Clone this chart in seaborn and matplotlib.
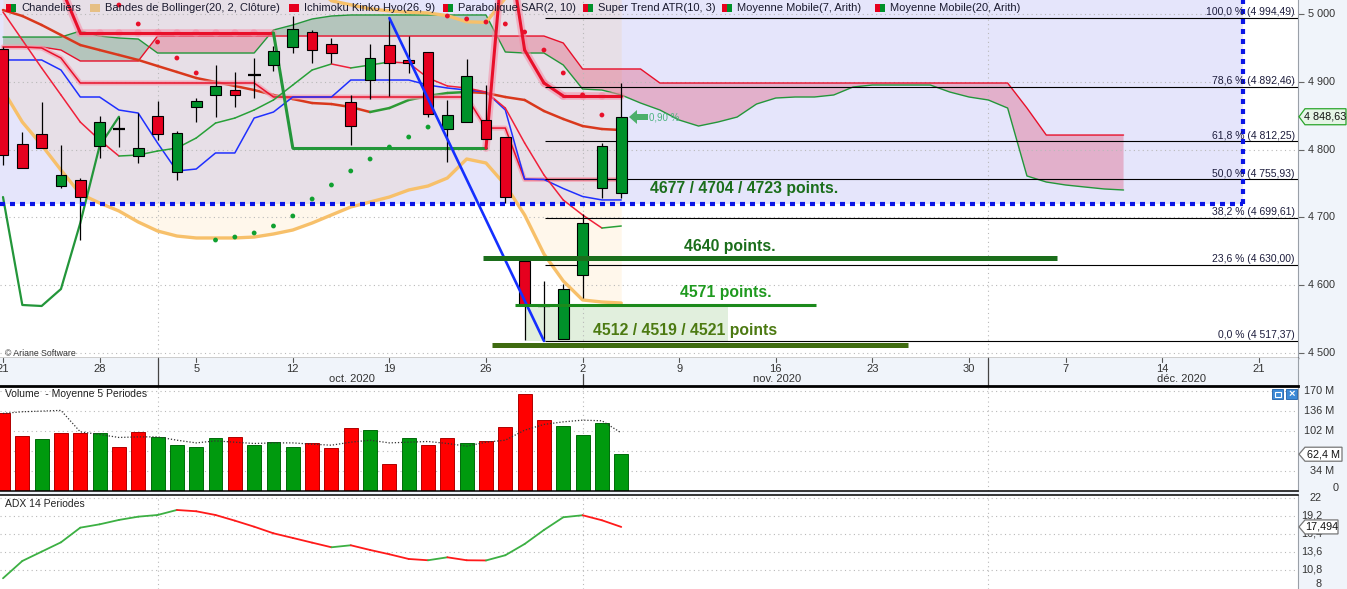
import numpy as np
import matplotlib
matplotlib.use("Agg")
import matplotlib.pyplot as plt
import matplotlib.transforms as mtransforms
from matplotlib.collections import LineCollection
from matplotlib.patches import Rectangle, Polygon
import seaborn as sns

# ---------------------------------------------------------------- data
# one index per trading session, starting Monday 21 Sept 2020
day_labels = ["21", "28", "5", "12", "19", "26", "2", "9", "16", "23", "30", "7", "14", "21"]
day_label_pos = [0, 5, 10, 15, 20, 25, 30, 35, 40, 45, 50, 55, 60, 65]
month_labels = ["oct. 2020", "nov. 2020", "déc. 2020"]
month_label_pos = [18.06, 40.06, 61.02]
month_start_pos = [8, 30, 51]

open_ = [4948.7, 4808.4, 4823.1, 4746.3, 4755.2, 4805.4, 4830.5, 4790.6, 4849.7, 4767.0,
         4863.0, 4880.8, 4888.1, 4910.3, 4925.1, 4951.7, 4973.8, 4956.1, 4870.4, 4902.9,
         4954.6, 4932.5, 4944.3, 4830.5, 4840.8, 4843.8, 4818.7, 4635.5, 4569.0, 4520.2,
         4614.8, 4743.3, 4735.9]
high = [4951.7, 4826.1, 4870.4, 4806.9, 4758.1, 4849.7, 4848.2, 4854.1, 4871.9, 4827.5,
        4876.3, 4925.1, 4914.8, 4935.4, 4953.2, 4997.5, 4976.8, 4965.0, 4880.8, 4956.1,
        4994.49, 4967.9, 4944.3, 4873.4, 4934.0, 4895.5, 4818.7, 4635.5, 4605.9, 4601.5,
        4704.9, 4809.8, 4898.5]
low = [4777.3, 4772.9, 4802.4, 4743.3, 4666.5, 4787.7, 4803.9, 4780.3, 4814.3, 4755.2,
       4840.8, 4848.2, 4863.0, 4876.3, 4916.2, 4942.8, 4928.0, 4928.0, 4806.9, 4874.8,
       4879.3, 4913.3, 4848.2, 4781.8, 4840.8, 4815.7, 4721.2, 4518.8, 4517.37, 4520.2,
       4580.8, 4728.6, 4728.6]
close = [4792.1, 4772.9, 4802.4, 4762.6, 4730.0, 4840.8, 4830.5, 4802.4, 4823.1, 4824.6,
         4871.9, 4894.1, 4880.8, 4910.3, 4945.8, 4978.3, 4947.2, 4942.8, 4834.9, 4935.4,
         4928.0, 4928.0, 4852.7, 4851.2, 4908.8, 4815.7, 4730.0, 4570.5, 4569.0, 4594.1,
         4691.6, 4805.4, 4848.63]

volume = [131.6, 93.0, 88.0, 98.6, 98.6, 98.6, 74.3, 99.8, 91.3, 77.7,
          74.3, 89.6, 91.3, 77.7, 82.8, 74.3, 81.1, 72.6, 106.6, 103.2,
          45.4, 89.6, 77.7, 89.6, 81.1, 84.5, 108.3, 164.4, 120.3, 110.0,
          94.8, 115.1, 62.4]
volume_ma5 = [131.6, 134.4, 135.5, 136.7, 100.3, 95.9, 90.8, 91.8, 91.8, 86.2,
              81.6, 85.0, 82.8, 80.6, 81.6, 81.6, 79.4, 77.7, 82.8, 86.2,
              81.6, 82.8, 84.0, 80.6, 76.0, 82.8, 86.2, 103.2, 112.9, 117.3,
              120.2, 119.1, 98.6]
adx = [9.51, 12.2, 13.65, 15.1, 17.38, 17.9, 18.58, 19.09, 19.35, 20.13,
       19.93, 19.35, 18.47, 17.53, 16.5, 15.78, 15.05, 14.33, 14.64, 13.91,
       13.24, 12.51, 12.31, 12.77, 12.31, 12.28, 13.09, 14.84, 17.02, 19.0,
       19.31, 18.53, 17.494]

bb_lower = [4888.1, 4840.8, 4806.9, 4769.9, 4734.5, 4721.2, 4709.4, 4693.1, 4679.8, 4672.4,
            4669.5, 4669.5, 4669.5, 4670.9, 4675.4, 4681.3, 4691.6, 4703.5, 4715.3, 4722.7,
            4730.0, 4740.4, 4746.3, 4758.1, 4786.2, 4780.3, 4747.8, 4703.5, 4645.8, 4605.9,
            4577.9, 4574.9, 4573.4]
bb_upper = [5124.0, 5154.0, 5162.0, 5169.0, 5175.0, 5173.0, 5170.0, 5172.0, 5167.0, 5157.0,
            5142.0, 5130.0, 5119.0, 5105.0, 5086.0, 5068.0, 5046.0, 5020.0, 5014.0, 5008.0,
            5005.0, 5003.0, 5002.0, 4998.0, 4989.0, 4988.0, 5024.0, 5045.0, 5068.0, 5085.0,
            5092.0, 5086.0, 5085.0]
ma7 = [5003.4, 4962.0, 4920.7, 4880.8, 4840.8, 4814.3, 4790.6, 4792.1, 4798.0, 4802.4,
       4817.2, 4839.3, 4846.7, 4858.6, 4873.4, 4895.5, 4917.7, 4926.6, 4920.7, 4925.1,
       4929.5, 4928.0, 4905.9, 4894.1, 4891.1, 4885.2, 4861.5, 4809.8, 4762.6, 4725.6,
       4703.5, 4684.2, 4687.2]
ma20 = [5006.3, 4997.5, 4984.2, 4969.4, 4954.6, 4947.2, 4939.9, 4932.5, 4923.6, 4914.8,
        4905.9, 4900.0, 4894.1, 4888.1, 4880.8, 4874.8, 4868.9, 4867.4, 4863.0, 4855.6,
        4861.5, 4873.4, 4879.3, 4883.7, 4885.2, 4883.7, 4877.8, 4873.4, 4857.1, 4845.3,
        4834.9, 4830.5, 4829.0]

# Ichimoku
tenkan = [4932.5, 4932.5, 4932.5, 4917.7, 4877.8, 4877.8, 4858.6, 4854.1, 4809.8, 4768.5,
          4771.4, 4795.1, 4795.1, 4846.7, 4855.6, 4877.8, 4877.8, 4877.8, 4902.9, 4902.9,
          4902.9, 4902.9, 4895.5, 4891.1, 4888.1, 4885.2, 4858.6, 4756.6, 4755.9, 4742.6,
          4730.8, 4725.7, 4725.7]
kijun = [4951.7, 4951.7, 4950.2, 4935.4, 4898.5, 4898.5, 4898.5, 4898.5, 4898.5, 4898.5,
         4898.5, 4898.5, 4898.5, 4898.5, 4877.8, 4877.8, 4877.8, 4877.8, 4877.8, 4877.8,
         4877.8, 4877.8, 4877.8, 4877.8, 4877.8, 4831.9, 4831.9, 4755.9, 4755.9, 4755.9,
         4755.9, 4755.9, 4755.9]
senkou_a = [4966.4, 4966.4, 4966.4, 4966.4, 4975.3, 4967.9, 4965.0, 4963.5, 4942.8, 4942.8,
            4942.8, 4942.8, 4942.8, 4942.8, 4976.8, 4984.2, 4993.1, 4997.5, 4999.0, 4999.0,
            4999.0, 4999.0, 4999.0, 4999.0, 4999.0, 4999.0, 4944.3, 4942.8, 4942.8, 4925.1,
            4889.6, 4888.1, 4880.8, 4868.9, 4858.6, 4843.8, 4834.9, 4840.8, 4848.2, 4867.4,
            4876.3, 4877.8, 4877.8, 4880.8, 4892.6, 4895.5, 4895.5, 4895.5, 4895.5, 4885.2,
            4877.8, 4873.4, 4861.5, 4761.1, 4752.2, 4747.8, 4744.8, 4741.9, 4740.4]
senkou_b = [4951.7, 4951.7, 4951.7, 4947.2, 4931.0, 4931.0, 4931.0, 4931.0, 4967.9, 4967.9,
            4967.9, 4967.9, 4967.9, 4967.9, 4967.9, 4967.9, 4967.9, 4967.9, 4967.9, 4967.9,
            4967.9, 4967.9, 4967.9, 4967.9, 4967.9, 4967.9, 4967.9, 4967.9, 4967.9, 4957.6,
            4919.2, 4919.2, 4919.2, 4919.2, 4898.5, 4898.5, 4898.5, 4898.5, 4898.5, 4898.5,
            4898.5, 4898.5, 4898.5, 4898.5, 4898.5, 4898.5, 4898.5, 4898.5, 4898.5, 4898.5,
            4898.5, 4898.5, 4898.5, 4861.5, 4821.6, 4821.6, 4821.6, 4821.6, 4821.6]

psar = [np.nan, np.nan, np.nan, np.nan, np.nan, np.nan, 5013.7, 4985.7, 4959.1, 4935.4,
        4913.3, 4666.5, 4670.9, 4676.9, 4687.2, 4702.0, 4727.1, 4747.8, 4768.5, 4786.2,
        4803.9, 4818.7, 4833.4, 4997.5, 4993.1, 4988.6, 4985.7, 4973.8, 4947.2, 4913.3,
        4880.8, 4851.2, np.nan]
psar_dir = [-1, -1, -1, -1, -1, -1, -1, -1, -1, -1, -1, 1, 1, 1, 1, 1, 1, 1, 1, 1, 1, 1, 1,
            -1, -1, -1, -1, -1, -1, -1, -1, -1, -1]
supertrend = [5040.0, 5040.0, 5040.0, 5040.0, 4972.4, 4972.4, 4972.4, 4972.4, 4972.4, 4972.4,
              4972.4, 4972.4, 4972.4, 4972.4, 4972.4, 4802.4, 4802.4, 4802.4, 4802.4, 4802.4,
              4802.4, 4802.4, 4802.4, 4802.4, 4802.4, 4802.4, 5130.0, 4947.2, 4898.5, 4879.3,
              4879.3, 4879.3, 4879.3]
supertrend_dir = [-1, -1, -1, -1, -1, -1, -1, -1, -1, -1, -1, -1, -1, -1, -1,
                  1, 1, 1, 1, 1, 1, 1, 1, 1, 1, 1, -1, -1, -1, -1, -1, -1, -1]

fib_pct = [100.0, 78.6, 61.8, 50.0, 38.2, 23.6, 0.0]
fib_price = [4994.49, 4892.46, 4812.25, 4755.93, 4699.61, 4630.00, 4517.37]
price_ticks = [4500, 4600, 4700, 4800, 4900, 5000]
volume_ticks = [34, 68, 102, 136, 170]
volume_labelled = [34, 102, 136, 170]
adx_ticks = [8, 10.8, 13.6, 16.4, 19.2, 22]

legend_labels = ["Chandeliers", "Bandes de Bollinger(20, 2, Clôture)", "Ichimoku Kinko Hyo(26, 9)",
                 "Parabolique SAR(2, 10)", "Super Trend ATR(10, 3)", "Moyenne Mobile(7, Arith)",
                 "Moyenne Mobile(20, Arith)"]

# ---------------------------------------------------------------- style
sns.set_theme(style="white")
plt.rcParams["font.family"] = ["Liberation Sans", "DejaVu Sans"]

RED, GREEN = "#e6001e", "#00912a"
LRED, LGREEN = "#e8102a", "#23963a"
BG = "#f0f4fa"
W, H = 1347, 589
PLOT_W = 1298

fig = plt.figure(figsize=(W / 100, H / 100), dpi=100, facecolor=BG)


def fx(px):
    return px / W


def fy(py):
    return 1.0 - py / H


def panel(top, bottom, face="white"):
    a = fig.add_axes([0, fy(bottom), PLOT_W / W, (bottom - top) / H], facecolor=face)
    for s in a.spines.values():
        s.set_visible(False)
    a.set_xticks([])
    a.set_yticks([])
    return a


ax = panel(0, 358)
axd = panel(358, 386, BG)
axv = panel(386, 491)
axa = panel(495, 589)

STEP, X0 = 19.32, 3.0


def xp(px):
    return (px - X0) / STEP


def yp(py):
    return 4500 + (352.7 - py) / 0.6768


for a in (ax, axd, axv, axa):
    a.set_xlim(xp(0), xp(PLOT_W))
ax.set_ylim(yp(358), yp(0))
axd.set_ylim(0, 1)
axv.set_ylim(0, 178.1)
axa.set_ylim(7.84, 22.46)

for a in (ax, axd, axv, axa):
    a.spines["right"].set_visible(True)
    a.spines["right"].set_color("#9aa0a8")
    a.spines["right"].set_linewidth(0.8)
ax.spines["bottom"].set_visible(True)
ax.spines["bottom"].set_color("black")
ax.spines["bottom"].set_linewidth(1.0)
axv.spines["top"].set_visible(True)
axv.spines["top"].set_color("black")
axv.spines["top"].set_linewidth(2.0)
axv.spines["bottom"].set_visible(True)
axv.spines["bottom"].set_color("black")
axv.spines["bottom"].set_linewidth(1.1)
axa.spines["top"].set_visible(True)
axa.spines["top"].set_color("black")
axa.spines["top"].set_linewidth(1.1)

GRID = dict(color="#b9b9b9", linewidth=0.8, linestyle=(0, (1, 3)))


def seg_line(axis, x, y, colors, lw, z):
    pts = np.column_stack([x, y])
    segs = np.stack([pts[:-1], pts[1:]], axis=1)
    lc = LineCollection(segs, colors=colors, linewidths=lw, zorder=z,
                        capstyle="round", joinstyle="round")
    axis.add_collection(lc)


def slope_colors(vals, up, down):
    d = np.diff(np.asarray(vals, dtype=float))
    return [up if v >= 0 else down for v in d]


n = len(close)
idx = np.arange(n)
o, h, l, c = map(np.asarray, (open_, high, low, close))
top = yp(0)

# ---------------------------------------------------------------- price panel
fib_floor = 4719.7
fib_right = xp(1243)
ax.add_patch(Rectangle((xp(0), fib_floor), fib_right - xp(0), top - fib_floor + 30,
                       facecolor="#e5e5fb", edgecolor="none", zorder=0.2))
ax.fill_between(idx, bb_lower, bb_upper, color="#ffb74d", alpha=0.11, lw=0, zorder=0.3)

sx = np.arange(len(senkou_a))
sa, sb = np.asarray(senkou_a), np.asarray(senkou_b)
ax.fill_between(sx, sa, sb, where=sa >= sb, interpolate=True, color="#1e7a3c", alpha=0.25, lw=0, zorder=0.5)
ax.fill_between(sx, sa, sb, where=sa < sb, interpolate=True, color="#dc143c", alpha=0.25, lw=0, zorder=0.5)

# support zone box
ax.add_patch(Rectangle((xp(526), 4517.4), xp(728) - xp(526), 4571 - 4517.4,
                       facecolor="#dcedd8", edgecolor="none", alpha=0.85, zorder=0.6))

for v in price_ticks:
    ax.axhline(v, zorder=0.8, **GRID)
for m in month_start_pos:
    for a in (ax, axv, axa):
        a.axvline(m, zorder=0.8, **GRID)

sns.lineplot(x=sx, y=sa, ax=ax, color=LGREEN, linewidth=1.0, zorder=1.5)
sns.lineplot(x=sx, y=sb, ax=ax, color=LRED, linewidth=1.0, zorder=1.5)
sns.lineplot(x=idx, y=bb_lower, ax=ax, color="#f7c06a", linewidth=2.4, zorder=1.6)
sns.lineplot(x=idx, y=bb_upper, ax=ax, color="#f7c06a", linewidth=2.4, zorder=1.6)

seg_line(ax, idx, ma20, slope_colors(ma20, "#2e9a35", "#d9381c"), 1.8, 2.0)

sns.lineplot(x=idx, y=kijun, ax=ax, color="#f4a0b2", linewidth=3.6, alpha=0.7, zorder=2.05)
sns.lineplot(x=idx, y=kijun, ax=ax, color=LRED, linewidth=1.1, zorder=2.1)
sns.lineplot(x=idx, y=tenkan, ax=ax, color="#1f2fff", linewidth=1.1, zorder=2.2)
seg_line(ax, idx, ma7, slope_colors(ma7, "#28a038", "#f0203a"), 1.1, 2.3)
sns.lineplot(x=idx[:7], y=c[26:33], ax=ax, color=LGREEN, linewidth=1.6, zorder=2.4)

st_cols = [LGREEN if d > 0 else LRED for d in supertrend_dir[1:]]
halo = [(1, 1, 1, 0) if d > 0 else (0.96, 0.55, 0.65, 0.55) for d in supertrend_dir[1:]]
seg_line(ax, idx, supertrend, halo, 5.5, 2.45)
seg_line(ax, idx, supertrend, st_cols, 2.2, 2.5)

ps = np.asarray(psar, dtype=float)
pdir = np.asarray(psar_dir)
ok = ~np.isnan(ps)
sns.scatterplot(x=idx[ok & (pdir < 0)], y=ps[ok & (pdir < 0)], ax=ax, color=LRED, s=12,
                edgecolor="none", zorder=2.6, legend=False)
sns.scatterplot(x=idx[ok & (pdir > 0)], y=ps[ok & (pdir > 0)], ax=ax, color="#10a030", s=12,
                edgecolor="none", zorder=2.6, legend=False)

# Fibonacci retracement
ax.hlines(fib_price, xp(545), xp(PLOT_W), color="black", lw=0.8, zorder=3.2)
for pct, pr in zip(fib_pct, fib_price):
    pr_txt = f"{pr:,.2f}".replace(",", " ").replace(".", ",")
    pct_txt = f"{pct:.1f}".replace(".", ",")
    ax.text(xp(1295), pr + 1.2, f"{pct_txt} % ({pr_txt})", ha="right", va="bottom",
            fontsize=7.5, color="#1c1c3c", zorder=7)

# candlesticks
body_w = 0.55
for i in idx:
    ax.vlines(i, l[i], h[i], color="black", lw=0.9, zorder=3.9)
    if abs(c[i] - o[i]) < 0.05:
        ax.hlines(c[i], i - 0.33, i + 0.33, color="black", lw=1.6, zorder=4)
    else:
        col = GREEN if c[i] > o[i] else RED
        ax.bar(i, abs(c[i] - o[i]), bottom=min(o[i], c[i]), width=body_w, color=col,
               edgecolor="black", linewidth=0.8, zorder=4)

# trend line from the top to the low
ax.plot([20, 28], [high[20], low[28]], color="#1530ff", lw=1.9, zorder=4.6, solid_capstyle="round")

# drawn levels
ax.hlines(4640, xp(483), xp(1057), color="#1b6e1b", lw=3.6, zorder=5)
ax.hlines(4571, xp(515), xp(816), color="#1c8a1c", lw=2.2, zorder=5)
ax.hlines(4512, xp(492), xp(908), color="#3f6b10", lw=3.6, zorder=5)
bold = dict(fontsize=11.3, fontweight="bold", va="center", zorder=7)
ax.text(xp(650), yp(189), "4677 / 4704 / 4723 points.", color="#1b6e1b", **bold)
ax.text(xp(684), yp(247), "4640 points.", color="#1b6e1b", **bold)
ax.text(xp(680), yp(292), "4571 points.", color="#1f9a1f", **bold)
ax.text(xp(593), yp(330), "4512 / 4519 / 4521 points", color="#4c7a12", **bold)

# dotted frame of the retracement zone
dot = dict(color="#0a14e6", lw=3.0, dashes=(1.2, 1.2), dash_capstyle="butt", zorder=6)
ax.plot([xp(0), fib_right], [fib_floor, fib_floor], **dot)
ax.plot([fib_right, fib_right], [fib_floor, top], **dot)

# last-change arrow
arrow_px = [(629, 117), (637, 110), (637, 114), (648, 114), (648, 120), (637, 120), (637, 124)]
ax.add_patch(Polygon([(xp(x), yp(y)) for x, y in arrow_px], closed=True,
                     facecolor="#4caf6a", edgecolor="none", zorder=6))
ax.text(xp(649), yp(118), "0,90 %", fontsize=7, color="#4db380", va="center", zorder=6)
ax.text(xp(5), yp(353), "© Ariane Software", fontsize=6.3, color="#333333", va="center", zorder=7)

ax.yaxis.set_ticks_position("right")
ax.set_yticks(price_ticks)
ax.tick_params(axis="y", direction="out", length=4, width=0.8, colors="#666666",
               labelright=False, labelleft=False, right=True, left=False)
tr_main = mtransforms.blended_transform_factory(fig.transFigure, ax.transData)
for v in price_ticks:
    ax.text(fx(1308), v, f"{v:,}".replace(",", " "), transform=tr_main, ha="left",
            va="center", fontsize=7.8, color="#333333", zorder=5)

# ---------------------------------------------------------------- date band
tr_d = mtransforms.blended_transform_factory(axd.transData, axd.transAxes)
for pos, lab in zip(day_label_pos, day_labels):
    axd.text(pos, 0.6, lab, transform=tr_d, ha="center", va="center", fontsize=8, color="#333333")
    axd.plot([pos, pos], [1.0, 0.86], transform=tr_d, color="#555555", lw=0.8)
for pos, lab in zip(month_label_pos, month_labels):
    axd.text(pos, 0.24, lab, transform=tr_d, ha="center", va="center", fontsize=8, color="#333333")
for k, m in enumerate(month_start_pos):
    y0 = 0.42 if k == 1 else 1.0
    axd.plot([m, m], [0, y0], transform=tr_d, color="#444444", lw=0.9)

# ---------------------------------------------------------------- volume panel
up = [False] + [close[i] >= close[i - 1] for i in range(1, n)]
axv.bar(idx, volume, width=0.72, color=["#009a0e" if u else "#ff0000" for u in up],
        edgecolor=["#006a0a" if u else "#b00000" for u in up], linewidth=0.7, zorder=2)
axv.plot(idx, volume_ma5, color="#333333", lw=0.9, ls=(0, (1, 1.5)), zorder=3)
for v in volume_ticks:
    axv.axhline(v, zorder=0.8, **GRID)
axv.text(xp(5), 0.925, "Volume  - Moyenne 5 Periodes", transform=axv.get_xaxis_transform(),
         fontsize=7.5, color="#222222", va="center")
tr_v = mtransforms.blended_transform_factory(fig.transFigure, axv.transData)
for v in volume_labelled:
    axv.text(fx(1334), v, f"{v} M", transform=tr_v, ha="right", va="center", fontsize=7.8,
             color="#333333")
fig.text(fx(1339), fy(488), "0", ha="right", va="center", fontsize=7.8, color="#333333")

# window buttons
for bx in (1272, 1286):
    fig.add_artist(Rectangle((fx(bx), fy(399)), 11 / W, 10 / H, transform=fig.transFigure,
                             facecolor="#3d8ad6", edgecolor="#1f5fa8", lw=0.6, zorder=12))
fig.add_artist(Rectangle((fx(1274.5), fy(396.5)), 6 / W, 5 / H, transform=fig.transFigure,
                         facecolor="none", edgecolor="white", lw=0.8, zorder=13))
fig.text(fx(1291.5), fy(394), "×", ha="center", va="center", fontsize=8, color="white",
         fontweight="bold", zorder=13)

# ---------------------------------------------------------------- ADX panel
seg_line(axa, idx, adx, slope_colors(adx, "#3cb043", "#ff1a1a"), 1.3, 3)
for v in adx_ticks[1:]:
    axa.axhline(v, zorder=0.8, **GRID)
axa.text(xp(5), 0.9, "ADX 14 Periodes", transform=axa.get_xaxis_transform(),
         fontsize=7.5, color="#222222", va="center")
tr_a = mtransforms.blended_transform_factory(fig.transFigure, axa.transData)
for v in adx_ticks:
    lab = f"{v:g}".replace(".", ",")
    axa.text(fx(1322), max(v, 8.55), lab, transform=tr_a, ha="right", va="center",
             fontsize=7.8, color="#333333")


# ---------------------------------------------------------------- last-value tags
def value_tag(axis, value, label, right, half, edge, face):
    ypix = H - axis.transData.transform((0, value))[1]
    pts = [(1299, ypix), (1305, ypix - half), (right, ypix - half), (right, ypix + half),
           (1305, ypix + half)]
    fig.add_artist(Polygon([(fx(x), fy(y)) for x, y in pts], closed=True, transform=fig.transFigure,
                           facecolor=face, edgecolor=edge, lw=0.9, zorder=10))
    fig.text(fx((1305 + right) / 2), fy(ypix), label, ha="center", va="center", fontsize=7.8,
             color="#111111", zorder=11)


value_tag(ax, close[-1], "4 848,63", 1346, 8, "#2aa52a", "#e6f5e6")
value_tag(axv, volume[-1], "62,4 M", 1342, 7, "#777777", "white")
value_tag(axa, adx[-1], "17,494", 1338, 7, "#777777", "white")

# ---------------------------------------------------------------- legend row
legend_icons = [(RED, GREEN), ("#e6bf85",), (RED,), (RED, GREEN), (RED, GREEN), (RED, GREEN), (RED, GREEN)]
legend_x = [6, 90, 289, 443, 583, 722, 875]
for lab, cols, x0 in zip(legend_labels, legend_icons, legend_x):
    wseg = 10 / len(cols)
    for k, col in enumerate(cols):
        fig.add_artist(Rectangle((fx(x0 + k * wseg), fy(12)), wseg / W, 8 / H,
                                 transform=fig.transFigure, facecolor=col, edgecolor="none", zorder=12))
    fig.text(fx(x0 + 15), fy(8), lab, ha="left", va="center", fontsize=8, color="#1a1a2e", zorder=12)

fig.savefig("out.png", dpi=100, facecolor=BG)
